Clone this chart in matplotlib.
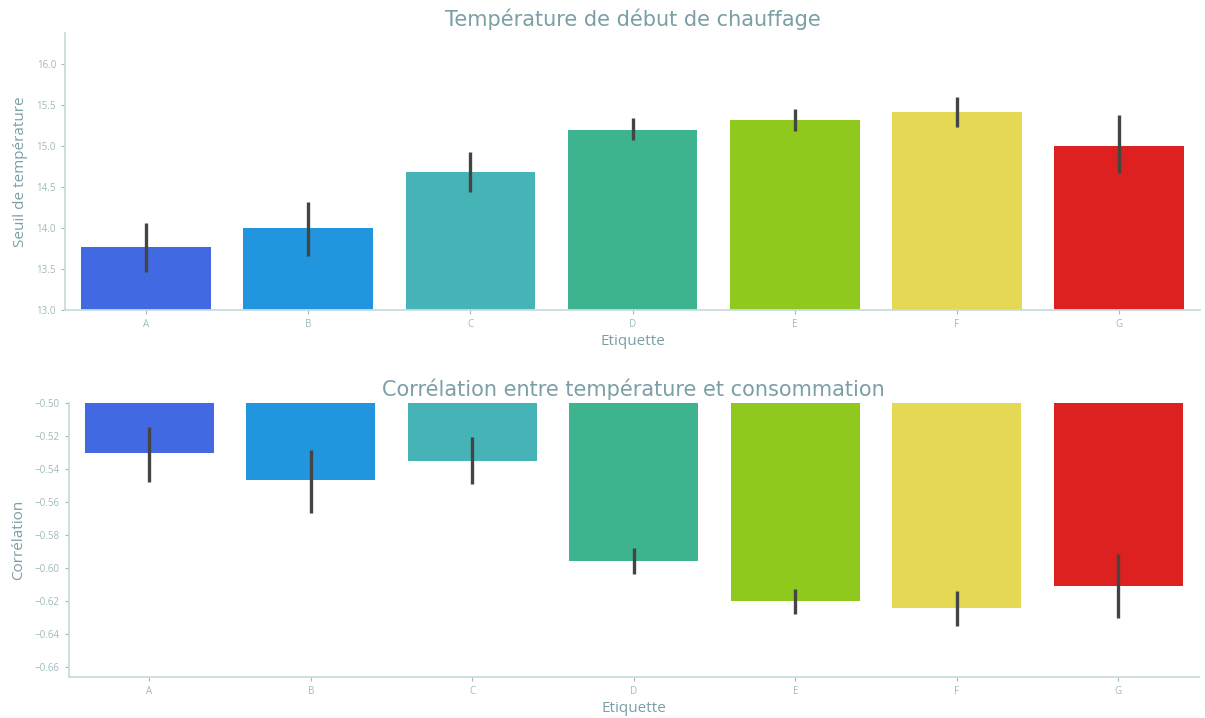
import matplotlib.pyplot as plt
import numpy as np

# etiquettes et couleurs par classe
etiquettes = ['A', 'B', 'C', 'D', 'E', 'F', 'G']
couleurs = ['#4169e1', '#2196de', '#46b4b7', '#3db38f', '#8fc91e', '#e5d855', '#dd2020']

# seuil de chauffage : moyenne et intervalle de confiance
seuil_moy = [13.77, 14.00, 14.68, 15.20, 15.32, 15.42, 15.00]
seuil_bas = [13.47, 13.66, 14.44, 15.07, 15.18, 15.23, 14.67]
seuil_haut = [14.06, 14.32, 14.93, 15.34, 15.45, 15.60, 15.38]

# correlation temperature / consommation
corr_moy = [-0.5305, -0.547, -0.535, -0.596, -0.620, -0.624, -0.611]
corr_bas = [-0.548, -0.5665, -0.549, -0.6036, -0.628, -0.635, -0.630]
corr_haut = [-0.5144, -0.5287, -0.5206, -0.588, -0.6127, -0.614, -0.5917]

txt_col = '#7a9fa5'
tick_col = '#9dbabe'
spine_col = '#c9dcdf'


def barres(ax, moy, bas, haut, titre, ylabel):
    x = np.arange(len(etiquettes))
    moy = np.array(moy)
    err = [moy - np.array(bas), np.array(haut) - moy]
    ax.bar(x, moy, width=0.8, color=couleurs, yerr=err,
           error_kw=dict(ecolor='#444444', elinewidth=2.4, capsize=0))
    ax.set_xticks(x)
    ax.set_xticklabels(etiquettes)
    ax.set_xlim(-0.5, len(etiquettes) - 0.5)
    for s in ['top', 'right']:
        ax.spines[s].set_visible(False)
    for s in ['left', 'bottom']:
        ax.spines[s].set_color(spine_col)
        ax.spines[s].set_linewidth(1.3)
    ax.tick_params(colors=tick_col, labelsize=7, length=3)
    for lab in ax.get_xticklabels() + ax.get_yticklabels():
        lab.set_family(['Open Sans', 'DejaVu Sans'])
    ax.set_title(titre, color=txt_col, fontsize=15, pad=5)
    ax.set_xlabel('Etiquette', color=txt_col, fontsize=11, family=['Open Sans', 'DejaVu Sans'], labelpad=3)
    ax.set_ylabel(ylabel, color=txt_col, fontsize=11, family=['Open Sans', 'DejaVu Sans'], labelpad=6)


fig = plt.figure(figsize=(12.05, 7.18), dpi=100)
ax1 = fig.add_axes([0.054, 0.568, 0.942, 0.386])
ax2 = fig.add_axes([0.057, 0.057, 0.938, 0.382])

barres(ax1, seuil_moy, seuil_bas, seuil_haut,
       'Température de début de chauffage', 'Seuil de température')
ax1.set_ylim(13.0, 16.38)
ax1.set_yticks(np.arange(13.0, 16.01, 0.5))
ax1.set_yticklabels(['%.1f' % v for v in np.arange(13.0, 16.01, 0.5)])

barres(ax2, corr_moy, corr_bas, corr_haut,
       'Corrélation entre température et consommation', 'Corrélation')
ax2.set_ylim(-0.666, -0.5)
ticks = np.arange(-0.66, -0.499, 0.02)
ax2.set_yticks(ticks)
ax2.set_yticklabels(['\u2212%.2f' % abs(v) for v in ticks])
for lab in ax2.get_yticklabels():
    lab.set_family(['Open Sans', 'DejaVu Sans'])

fig.savefig('out.png', dpi=100)
